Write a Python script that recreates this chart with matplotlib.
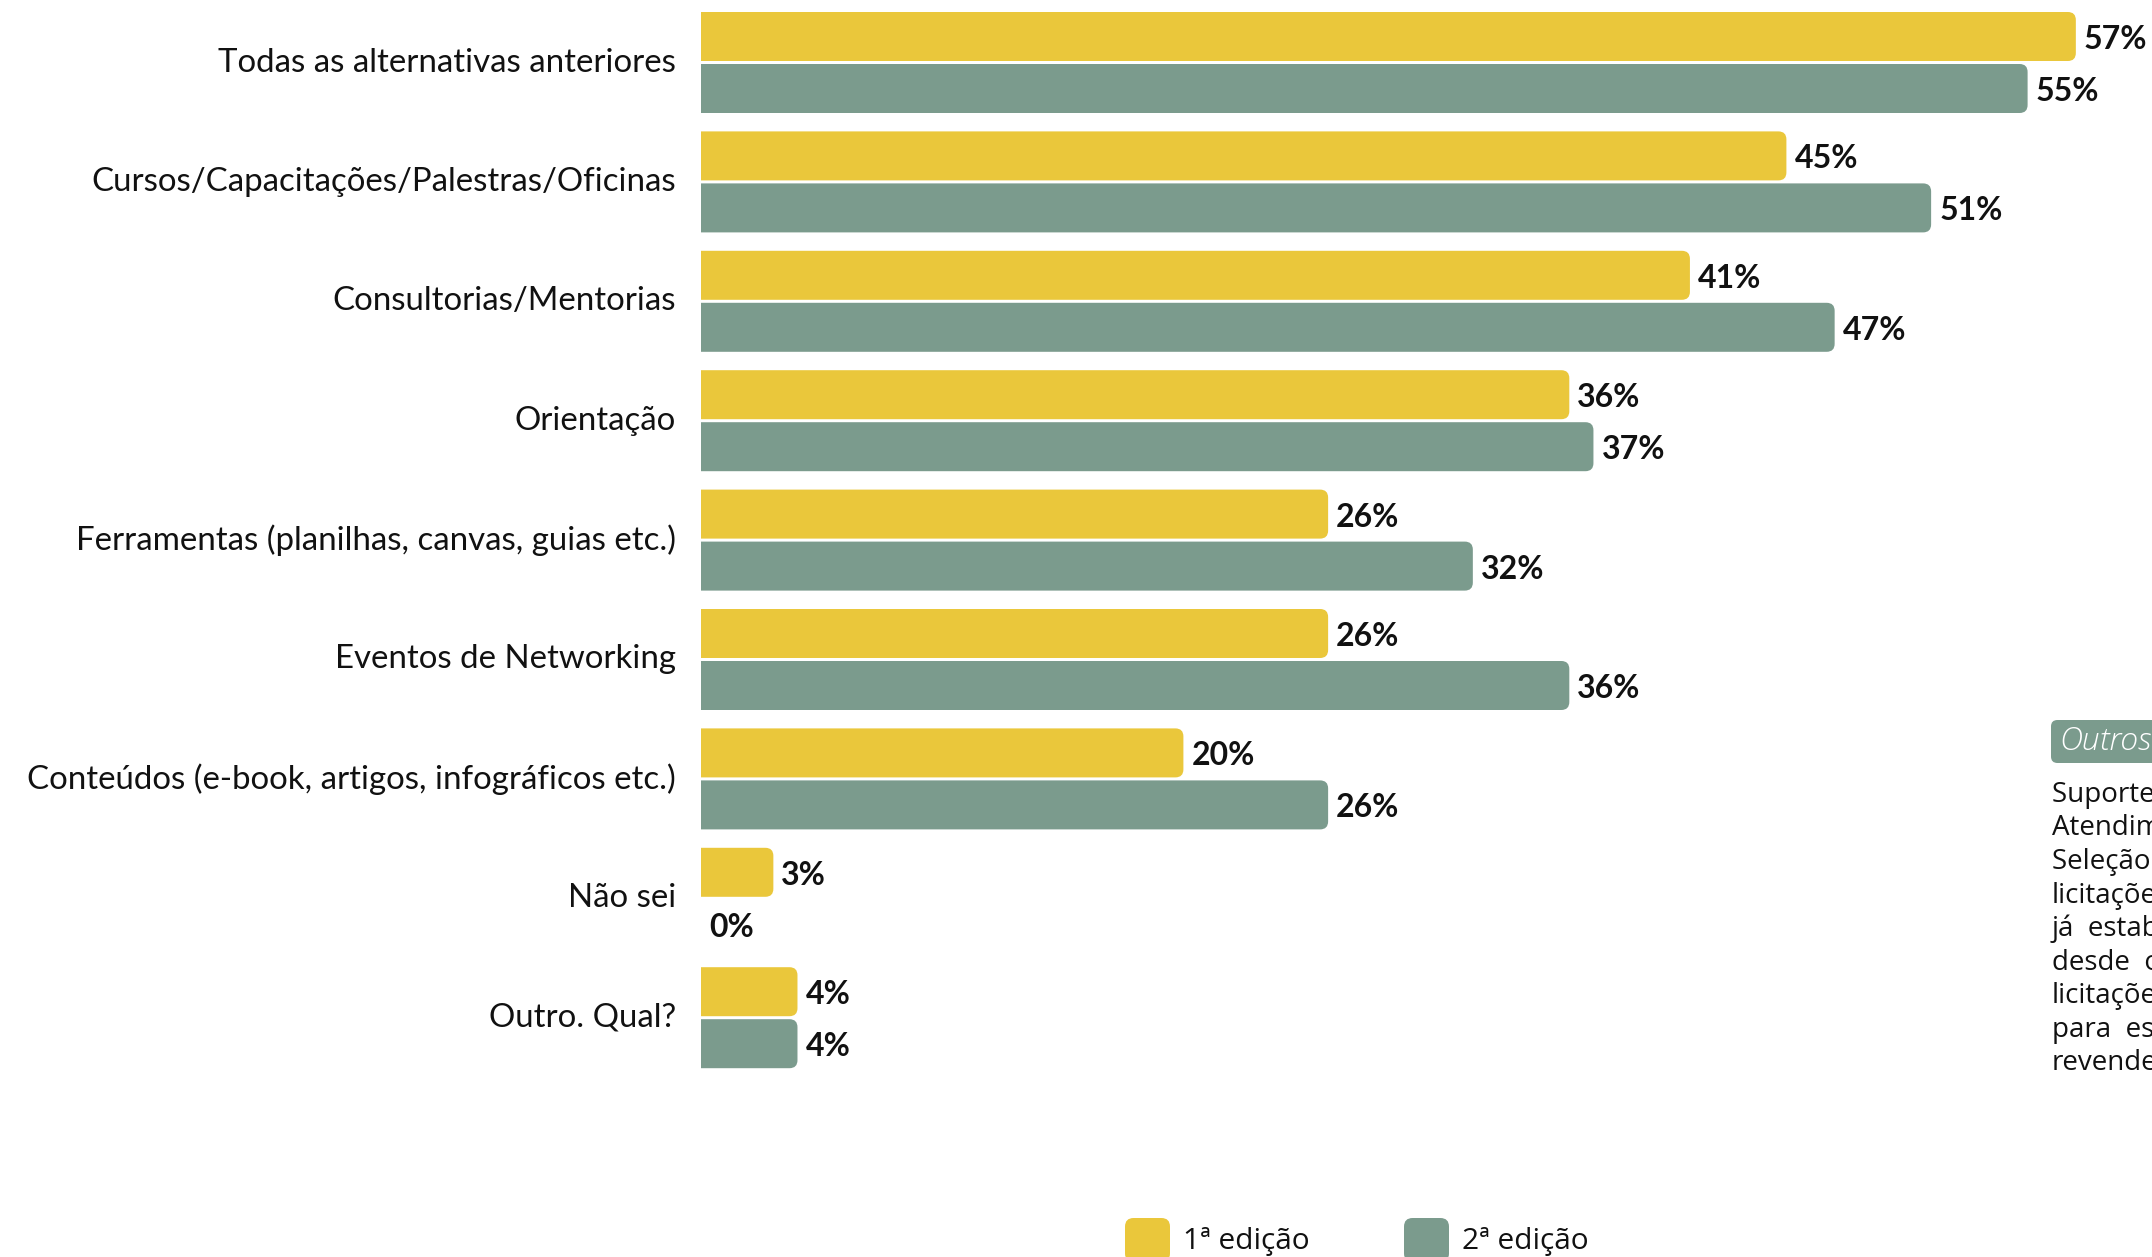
import matplotlib.pyplot as plt
from matplotlib.patches import FancyBboxPatch

categorias = [
    "Todas as alternativas anteriores",
    "Cursos/Capacitações/Palestras/Oficinas",
    "Consultorias/Mentorias",
    "Orientação",
    "Ferramentas (planilhas, canvas, guias etc.)",
    "Eventos de Networking",
    "Conteúdos (e-book, artigos, infográficos etc.)",
    "Não sei",
    "Outro. Qual?",
]
edicao_1 = [57, 45, 41, 36, 26, 26, 20, 3, 4]
edicao_2 = [55, 51, 47, 37, 32, 36, 26, 0, 4]
series = ["1ª edição", "2ª edição"]

outros_titulo = "Outros"
outros_linhas = [
    "Suporte técnico;",
    "Atendimento personalizado;",
    "Seleção para",
    "licitações;",
    "já  estabelecidos",
    "desde  o  início;",
    "licitações",
    "para  esse",
    "revendedores.",
]

amarelo = "#EAC73B"
verde = "#7B9B8D"

W, H = 2152, 1257
fig = plt.figure(figsize=(W / 100, H / 100), dpi=100)

# bar area: x=0 sits at 701 px, 1 % = 24.12 px
x0 = 701
px_x = 24.12
xmax = (W - x0) / px_x
ax = fig.add_axes([x0 / W, 0, 1 - x0 / W, 1])
pitch = 119.4
centro0 = 62.5
ax.set_xlim(0, xmax)
ax.set_ylim((H - centro0) / pitch, -centro0 / pitch)
ax.axis("off")

alt = 49 / pitch
desl = 26 / pitch
pos = list(range(len(categorias)))

raio = 8 / px_x
aspecto = px_x / pitch


def barras(valores, offset, cor):
    rects = ax.barh([p + offset for p in pos], valores, height=alt, color="none")
    for r, v in zip(rects, valores):
        x, y = r.get_x(), r.get_y()
        w, h = r.get_width(), r.get_height()
        # rounded on the right; the left corners fall outside the axes and get clipped
        ax.add_patch(FancyBboxPatch((x - raio * 2, y), w + raio * 2, h,
                                    boxstyle=f"round,pad=0,rounding_size={raio}",
                                    mutation_aspect=aspecto, fc=cor, ec="none",
                                    clip_on=True))
        ax.text(x + w + 8 / px_x, y + h / 2 + 3 / pitch, f"{v}%", ha="left",
                va="center", fontsize=23, fontweight="bold", family="Lato",
                color="#111111")


barras(edicao_1, -desl, amarelo)
barras(edicao_2, desl, verde)

for p, c in zip(pos, categorias):
    fig.text(676 / W, 1 - (centro0 + p * pitch) / H, c, ha="right",
             va="center", fontsize=23.8, family="Lato", color="#111111")

# legend along the bottom edge
leg_x = [1125, 1404]
for lx, cor, nome in zip(leg_x, [amarelo, verde], series):
    fig.patches.append(FancyBboxPatch((lx / W, 1 - 1262 / H), 45 / W, 44 / H,
                                      boxstyle="round,pad=0,rounding_size=0.004",
                                      mutation_aspect=W / H, fc=cor, ec="none",
                                      transform=fig.transFigure))
    fig.text((lx + 58) / W, 1 - 1242 / H, nome, ha="left", va="center",
             fontsize=21.5, family="Open Sans", color="#111111")

# side note box
fig.patches.append(FancyBboxPatch((2051 / W, 1 - 763 / H), 160 / W, 43 / H,
                                  boxstyle="round,pad=0,rounding_size=0.003",
                                  mutation_aspect=W / H, fc=verde, ec="none",
                                  transform=fig.transFigure))
fig.text(2059 / W, 1 - 742 / H, outros_titulo, ha="left", va="center",
         fontsize=23, style="italic", family="Open Sans", color="white",
         fontweight="light")
for i, linha in enumerate(outros_linhas):
    fig.text(2052 / W, 1 - (802 + i * 33.5) / H, linha, ha="left",
             va="baseline", fontsize=20, family="Open Sans", color="#111111")

fig.savefig("out.png", dpi=100)
